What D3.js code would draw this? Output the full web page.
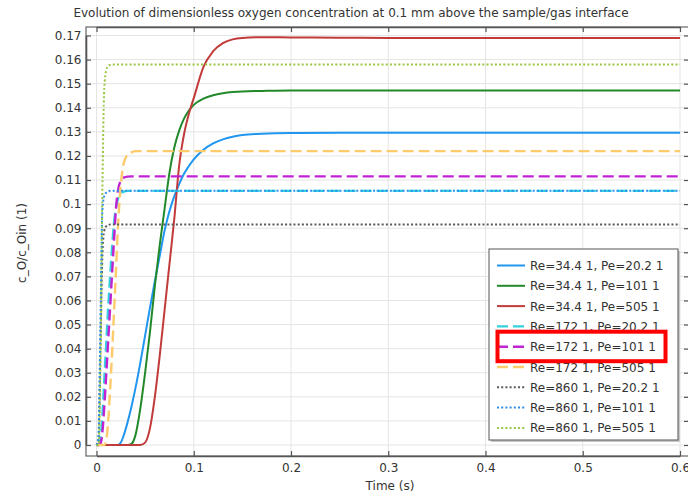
<!DOCTYPE html>
<html>
<head>
<meta charset="utf-8">
<script src="https://cdn.jsdelivr.net/npm/d3@7"></script>
<style>
  html, body { margin: 0; padding: 0; background: #fff; }
  svg { display: block; }
  text { font-family: "DejaVu Sans", sans-serif; fill: #333; }
</style>
</head>
<body>
<svg id="chart" width="688" height="495"></svg>
<script>
// ---------------- data ----------------
const times = [0, 0.002, 0.004, 0.006, 0.008, 0.010, 0.012, 0.014, 0.016, 0.018, 0.020, 0.022, 0.025, 0.028, 0.032, 0.036, 0.040, 0.045, 0.050, 0.055, 0.060, 0.065, 0.070, 0.075, 0.080, 0.085, 0.090, 0.095, 0.100, 0.110, 0.120, 0.130, 0.140, 0.150, 0.170, 0.200, 0.250, 0.300, 0.400, 0.600];

const re34_pe20  = [0, 0, 0, 0, 0, 0, 0, 0, 0, 0, 0, 0, 0.001, 0.004, 0.0095, 0.016, 0.0235, 0.034, 0.0455, 0.057, 0.068, 0.0785, 0.089, 0.097, 0.1033, 0.1083, 0.1126, 0.1158, 0.1186, 0.1226, 0.1252, 0.1269, 0.128, 0.1287, 0.1292, 0.1295, 0.1296, 0.1296, 0.1296, 0.1296];
const re34_pe101 = [0, 0, 0, 0, 0, 0, 0, 0, 0, 0, 0, 0, 0, 0, 0, 0.0005, 0.004, 0.015, 0.030, 0.047, 0.066, 0.083, 0.098, 0.113, 0.1235, 0.1305, 0.1355, 0.1388, 0.1412, 0.1438, 0.1452, 0.146, 0.1465, 0.1468, 0.147, 0.1472, 0.1472, 0.1472, 0.1472, 0.1472];
const re34_pe505 = [0, 0, 0, 0, 0, 0, 0, 0, 0, 0, 0, 0, 0, 0, 0, 0, 0, 0, 0.001, 0.007, 0.020, 0.037, 0.056, 0.075, 0.094, 0.116, 0.129, 0.1375, 0.144, 0.157, 0.1635, 0.1668, 0.1684, 0.169, 0.1693, 0.1692, 0.1691, 0.169, 0.169, 0.169];
const re172_pe20  = [0, 0, 0.002, 0.012, 0.027, 0.042, 0.057, 0.070, 0.082, 0.092, 0.0985, 0.102, 0.1045, 0.1052, 0.1055, 0.1055, 0.1055, 0.1055, 0.1055, 0.1055, 0.1055, 0.1055, 0.1055, 0.1055, 0.1055, 0.1055, 0.1055, 0.1055, 0.1055, 0.1055, 0.1055, 0.1055, 0.1055, 0.1055, 0.1055, 0.1055, 0.1055, 0.1055, 0.1055, 0.1055];
const re172_pe101 = [0, 0, 0.0005, 0.005, 0.016, 0.029, 0.043, 0.057, 0.071, 0.085, 0.098, 0.1055, 0.1098, 0.111, 0.1114, 0.1115, 0.1115, 0.1115, 0.1115, 0.1115, 0.1115, 0.1115, 0.1115, 0.1115, 0.1115, 0.1115, 0.1115, 0.1115, 0.1115, 0.1115, 0.1115, 0.1115, 0.1115, 0.1115, 0.1115, 0.1115, 0.1115, 0.1115, 0.1115, 0.1115];
const re172_pe505 = [0, 0, 0, 0, 0, 0.002, 0.010, 0.023, 0.038, 0.055, 0.072, 0.090, 0.108, 0.117, 0.1205, 0.1215, 0.122, 0.122, 0.122, 0.122, 0.122, 0.122, 0.122, 0.122, 0.122, 0.122, 0.122, 0.122, 0.122, 0.122, 0.122, 0.122, 0.122, 0.122, 0.122, 0.122, 0.122, 0.122, 0.122, 0.122];
const re860_pe20  = [0, 0.002, 0.04, 0.078, 0.089, 0.0908, 0.0913, 0.0915, 0.0915, 0.0915, 0.0915, 0.0915, 0.0915, 0.0915, 0.0915, 0.0915, 0.0915, 0.0915, 0.0915, 0.0915, 0.0915, 0.0915, 0.0915, 0.0915, 0.0915, 0.0915, 0.0915, 0.0915, 0.0915, 0.0915, 0.0915, 0.0915, 0.0915, 0.0915, 0.0915, 0.0915, 0.0915, 0.0915, 0.0915, 0.0915];
const re860_pe101 = [0, 0.003, 0.05, 0.097, 0.1035, 0.1048, 0.1053, 0.1055, 0.1055, 0.1055, 0.1055, 0.1055, 0.1055, 0.1055, 0.1055, 0.1055, 0.1055, 0.1055, 0.1055, 0.1055, 0.1055, 0.1055, 0.1055, 0.1055, 0.1055, 0.1055, 0.1055, 0.1055, 0.1055, 0.1055, 0.1055, 0.1055, 0.1055, 0.1055, 0.1055, 0.1055, 0.1055, 0.1055, 0.1055, 0.1055];
const re860_pe505 = [0, 0, 0.03, 0.105, 0.148, 0.1555, 0.1572, 0.1578, 0.158, 0.158, 0.158, 0.158, 0.158, 0.158, 0.158, 0.158, 0.158, 0.158, 0.158, 0.158, 0.158, 0.158, 0.158, 0.158, 0.158, 0.158, 0.158, 0.158, 0.158, 0.158, 0.158, 0.158, 0.158, 0.158, 0.158, 0.158, 0.158, 0.158, 0.158, 0.158];

const seriesLabels = ["Re=34.4 1, Pe=20.2 1", "Re=34.4 1, Pe=101 1", "Re=34.4 1, Pe=505 1",
                      "Re=172 1, Pe=20.2 1", "Re=172 1, Pe=101 1", "Re=172 1, Pe=505 1",
                      "Re=860 1, Pe=20.2 1", "Re=860 1, Pe=101 1", "Re=860 1, Pe=505 1"];
const xTicks = [0, 0.1, 0.2, 0.3, 0.4, 0.5, 0.6];
const yTicks = [0, 0.01, 0.02, 0.03, 0.04, 0.05, 0.06, 0.07, 0.08, 0.09, 0.1, 0.11, 0.12, 0.13, 0.14, 0.15, 0.16, 0.17];
const titleText = "Evolution of dimensionless oxygen concentration at 0.1 mm above the sample/gas interface";
const xLabel = "Time (s)";
const yLabel = "c_O/c_Oin (1)";
const highlightIndex = 4;

// ---------------- styles ----------------
const seriesValues = [re34_pe20, re34_pe101, re34_pe505, re172_pe20, re172_pe101, re172_pe505, re860_pe20, re860_pe101, re860_pe505];
const colors = ["#2196f0", "#21892a", "#c13b3b", "#33d2de", "#c024d2", "#fdca6c", "#5a5a5a", "#2b8fee", "#9ac742"];
const dashes = [null, null, null, "11,5", "11,5", "11,5", "2,2.2", "2,2.2", "2,2.2"];
const widths = [2, 2, 2, 2.4, 2.4, 2.4, 2, 2, 2];

// ---------------- layout ----------------
const svg = d3.select("#chart");
const frame = {left: 86, right: 689, top: 27, bottom: 456};
const x = d3.scaleLinear().domain([0, 0.6]).range([96.5, 680]);
const y = d3.scaleLinear().domain([0, 0.17]).range([445, 35.5]);

svg.append("defs").append("clipPath").attr("id", "clip")
  .append("rect").attr("x", frame.left).attr("y", frame.top)
  .attr("width", frame.right - frame.left).attr("height", frame.bottom - frame.top);

// grid
const grid = svg.append("g");
grid.selectAll("line.gx").data(xTicks).enter().append("line")
  .attr("x1", d => x(d)).attr("x2", d => x(d))
  .attr("y1", frame.top).attr("y2", frame.bottom)
  .attr("stroke", "#e4e4e4").attr("stroke-width", 1);
grid.selectAll("line.gy").data(yTicks).enter().append("line")
  .attr("y1", d => y(d)).attr("y2", d => y(d))
  .attr("x1", frame.left).attr("x2", frame.right)
  .attr("stroke", "#e4e4e4").attr("stroke-width", 1);

// lines
const lineGen = d3.line().x(d => x(d[0])).y(d => y(d[1])).curve(d3.curveMonotoneX);
const plot = svg.append("g").attr("clip-path", "url(#clip)");
seriesValues.forEach((vals, i) => {
  const pts = times.map((t, k) => [t, vals[k]]);
  plot.append("path").datum(pts)
    .attr("d", lineGen)
    .attr("fill", "none")
    .attr("stroke", colors[i])
    .attr("stroke-width", widths[i])
    .attr("stroke-dasharray", dashes[i])
    .attr("stroke-linejoin", "round");
});

// frame
svg.append("rect").attr("x", frame.left).attr("y", frame.top)
  .attr("width", frame.right - frame.left).attr("height", frame.bottom - frame.top)
  .attr("fill", "none").attr("stroke", "#666").attr("stroke-width", 1.2);

// axes
const fmt = d => d === 0 ? "0" : String(+d.toFixed(2));
const axL = svg.append("g").attr("transform", `translate(${frame.left},0)`)
  .call(d3.axisLeft(y).tickValues(yTicks).tickFormat(fmt).tickSizeInner(-5).tickSizeOuter(0).tickPadding(4.5));
const axB = svg.append("g").attr("transform", `translate(0,${frame.bottom})`)
  .call(d3.axisBottom(x).tickValues(xTicks).tickFormat(fmt).tickSizeInner(-5).tickSizeOuter(0).tickPadding(7.5));
const axT = svg.append("g").attr("transform", `translate(0,${frame.top})`)
  .call(d3.axisTop(x).tickValues(xTicks).tickFormat("").tickSizeInner(-5).tickSizeOuter(0));
const axR = svg.append("g").attr("transform", `translate(${frame.right},0)`)
  .call(d3.axisRight(y).tickValues(yTicks).tickFormat("").tickSizeInner(-5).tickSizeOuter(0));
[axL, axB, axT, axR].forEach(a => {
  a.select(".domain").attr("stroke", "#555").attr("stroke-width", 1.6);
  a.selectAll(".tick line").attr("stroke", "#555").attr("stroke-width", 1.2);
  a.selectAll("text").attr("font-family", "DejaVu Sans").attr("font-size", 12).attr("fill", "#333");
});

// titles
svg.append("text").attr("x", 351).attr("y", 16.5).attr("text-anchor", "middle")
  .attr("font-size", 12).text(titleText);
svg.append("text").attr("x", 390).attr("y", 490).attr("text-anchor", "middle")
  .attr("font-size", 12).text(xLabel);
svg.append("text").attr("transform", "translate(26,243) rotate(-90)").attr("text-anchor", "middle")
  .attr("font-size", 12).text(yLabel);

// legend
const lg = {x: 489, y: 249, w: 189, h: 191};
svg.append("rect").attr("x", lg.x + 2).attr("y", lg.y + 2).attr("width", lg.w).attr("height", lg.h)
  .attr("fill", "#c8c8c8");
svg.append("rect").attr("x", lg.x).attr("y", lg.y).attr("width", lg.w).attr("height", lg.h)
  .attr("fill", "#fff").attr("stroke", "#555").attr("stroke-width", 1);
const legend = svg.append("g");
seriesLabels.forEach((lab, i) => {
  const ly = 265.5 + i * 20.3;
  legend.append("line").attr("x1", 497).attr("x2", 525).attr("y1", ly).attr("y2", ly)
    .attr("stroke", colors[i]).attr("stroke-width", widths[i])
    .attr("stroke-dasharray", dashes[i]);
  legend.append("text").attr("x", 530).attr("y", ly + 4.5).attr("font-size", 12).text(lab);
});

// highlight box around the selected legend entry
const hy = 265.5 + highlightIndex * 20.3;
svg.append("rect").attr("x", 497.5).attr("y", hy - 15).attr("width", 168).attr("height", 29.5)
  .attr("fill", "none").attr("stroke", "#ff0000").attr("stroke-width", 4);
</script>
</body>
</html>
